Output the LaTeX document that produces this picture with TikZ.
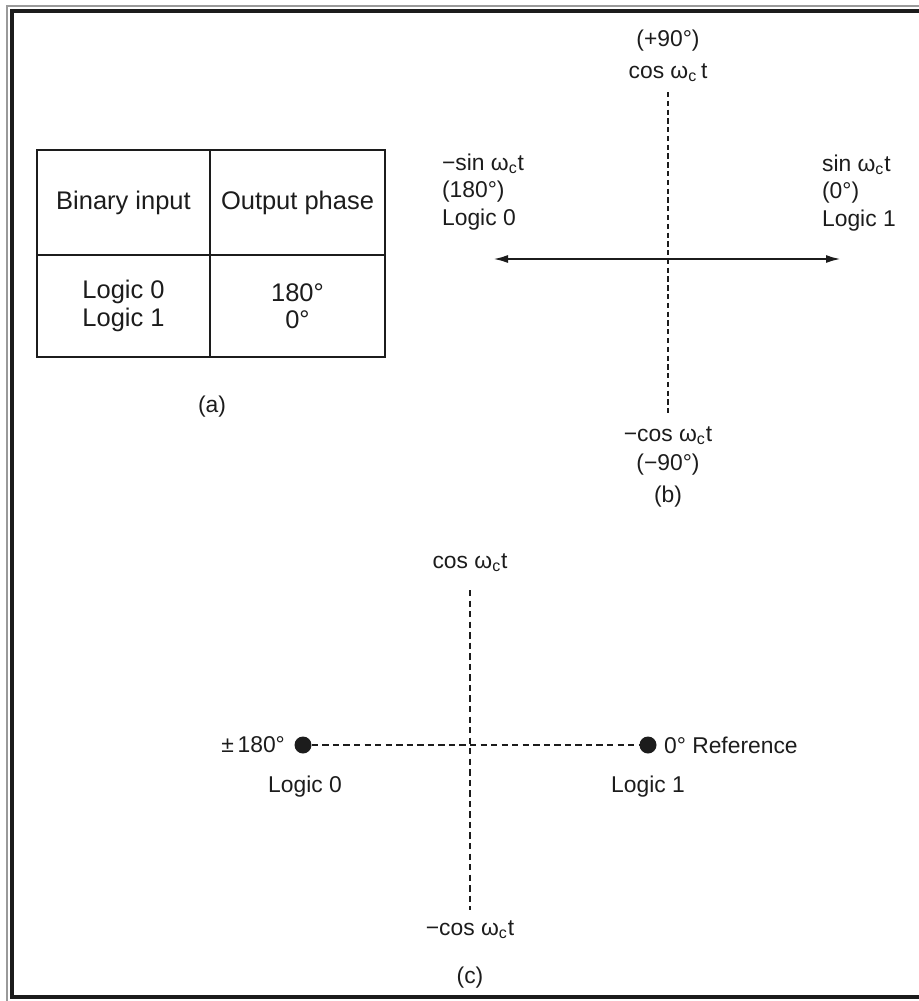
\documentclass[tikz,border=0pt]{standalone}
\usepackage{fontspec}
\setmainfont{Liberation Sans}
\usepackage{tikz}
\usetikzlibrary{arrows.meta,positioning}
\definecolor{phaseInk}{HTML}{1C1C1C}
\definecolor{frameGrey}{HTML}{9A9A9A}
\newcommand{\omc}{ω\textsubscript{c}}
\tikzset{
  phaseLabel/.style={
    inner sep=1pt,
    text=phaseInk,
    font=\fontsize{13}{15.6}\selectfont
  },
  tableCell/.style={
    rectangle,
    draw=phaseInk,
    line width=1.1pt,
    inner sep=0pt,
    align=center,
    text=phaseInk,
    font=\fontsize{14.5}{15.5}\selectfont
  },
  axisDash/.style={
    draw=phaseInk,
    line width=1pt,
    dash pattern=on 3.6pt off 2.4pt
  },
  axisArrow/.style={
    {Latex[length=3mm,width=1.6mm]}-{Latex[length=3mm,width=1.6mm]},
    line width=1.3pt,
    draw=phaseInk
  },
  pointDot/.style={
    circle,
    fill=phaseInk,
    inner sep=0pt,
    minimum size=3.4mm
  },
  frameLine/.style={
    line width=2.6pt,
    draw=phaseInk
  }
}

\begin{document}
\begin{tikzpicture}[x=0.02cm,y=-0.02cm]
  \useasboundingbox (0,0) rectangle (919,1001);
  % outer frame
  \draw[line width=1pt,draw=frameGrey] (919,6) -| (7,1001);
  \draw[frameLine] (919,11) -| (12,997) -- (919,997);

  % (a) table
  \node[tableCell,minimum width=3.46cm,minimum height=2.1cm] (hdrIn) at (123.5,202.5) {Binary input};
  \node[tableCell,minimum width=3.5cm,minimum height=2.1cm] (hdrOut) at (297.5,202.5) {Output phase};
  \node[tableCell,minimum width=3.46cm,minimum height=2.04cm] (rowIn) at (123.5,306) {Logic 0\\Logic 1};
  \node[tableCell,minimum width=3.5cm,minimum height=2.04cm] (rowOut) at (297.5,306) {180°\\0°};
  \node[phaseLabel] (capA) at (212,407) {(a)};

  % (b) phasor diagram
  \node[phaseLabel,align=center,font=\fontsize{13}{18}\selectfont] (bCos) at (668,56) {(+90°)\\cos \omc\,t};
  \node[phaseLabel,align=center,font=\fontsize{13}{16.5}\selectfont] (bNegCos) at (668,451) {−cos \omc t\\(−90°)};
  \node[phaseLabel,align=left,anchor=west] (bNegSin) at (440,192) {−sin \omc t\\(180°)\\Logic 0};
  \node[phaseLabel,align=left,anchor=west] (bSin) at (820,193) {sin \omc t\\(0°)\\Logic 1};
  \node[phaseLabel] (capB) at (668,497) {(b)};
  \coordinate (bTop) at (668,92);
  \coordinate (bBot) at (668,413);
  \coordinate (bLeft) at (493,259);
  \coordinate (bRight) at (841,259);
  \draw[axisDash,dash pattern=on 3pt off 2pt] (bTop) -- (bBot);
  \draw[axisArrow] (bLeft) -- (bRight);

  % (c) constellation
  \node[phaseLabel] (cCos) at (470,563) {cos \omc t};
  \node[phaseLabel] (cNegCos) at (470,930) {−cos \omc t};
  \node[pointDot] (zeroPt) at (303,745) {};
  \node[pointDot] (onePt) at (648,745) {};
  \node[phaseLabel,anchor=east] (zeroDeg) at (287,745) {±\,180°};
  \node[phaseLabel,anchor=west] (oneDeg) at (662,745) {0° Reference};
  \node[phaseLabel] (zeroLogic) at (305,787) {Logic 0};
  \node[phaseLabel] (oneLogic) at (648,787) {Logic 1};
  \node[phaseLabel] (capC) at (470,978) {(c)};
  \coordinate (cTop) at (470,590);
  \coordinate (cBot) at (470,910);
  \draw[axisDash] (cTop) -- (cBot);
  \draw[axisDash] (zeroPt) -- (onePt);
\end{tikzpicture}
\end{document}
